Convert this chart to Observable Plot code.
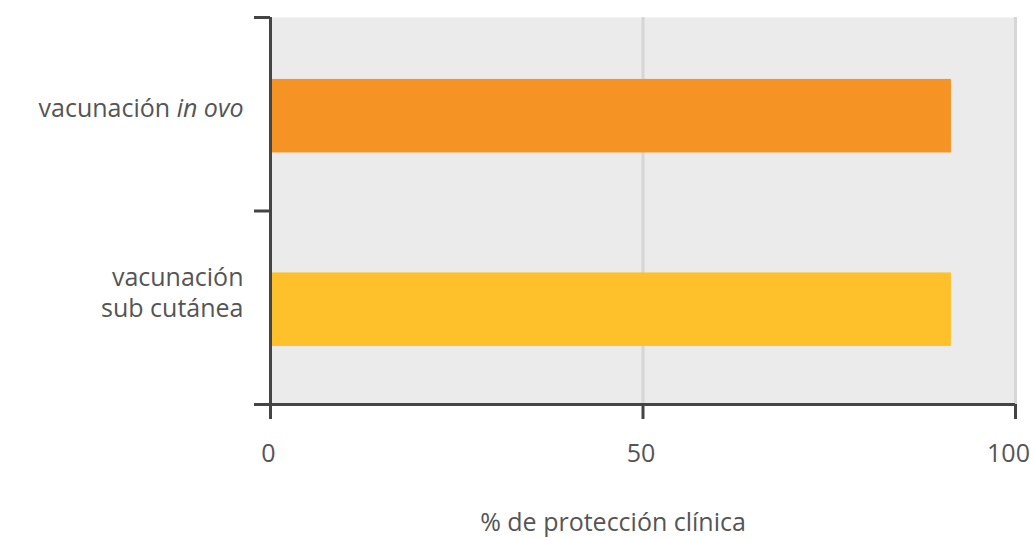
<!DOCTYPE html>
<html>
<head>
<meta charset="utf-8">
<script src="https://cdn.jsdelivr.net/npm/d3@7"></script>
<script src="https://cdn.jsdelivr.net/npm/@observablehq/plot@0.6"></script>
<style>
  html, body { margin: 0; padding: 0; background: #fff; }
  #chart svg { display: block; }
</style>
</head>
<body>
<div id="chart"></div>
<script>
// Clinical protection by vaccination route
const categories = ["vacunación in ovo", "vacunación\nsub cutánea"];
const protection = [91.4, 91.4];
const barColors = ["#f59325", "#fec02b"];
const xTicks = [0, 50, 100];
const axisTitle = "% de protección clínica";

const rows = categories.map((name, i) => ({name, i, value: protection[i], color: barColors[i]}));

const ink = "#444";
const textInk = "#555";
const fontSize = 25;
const lastTick = xTicks[xTicks.length - 1];

const chart = Plot.plot({
  width: 1034,
  height: 538,
  marginLeft: 270,
  marginRight: 19,
  marginTop: 17,
  marginBottom: 134,
  style: {fontFamily: "'Open Sans', sans-serif", fontSize: `${fontSize}px`, color: textInk, background: "#fff"},
  x: {domain: [0, 100]},
  y: {domain: [0, 2], reverse: true},
  marks: [
    Plot.frame({fill: "#ebebeb", stroke: null}),
    Plot.ruleX([50, 100], {stroke: "#d6d6d6", strokeWidth: 3}),
    Plot.rectX(rows, {x1: 0, x2: "value", y1: d => d.i + 0.32, y2: d => d.i + 0.70, fill: "color"}),
    Plot.ruleX([0], {stroke: ink, strokeWidth: 3}),
    Plot.ruleY([2], {stroke: ink, strokeWidth: 3}),
    Plot.axisY([0, 1, 2], {tickSize: 16, tickFormat: () => "", stroke: ink, strokeWidth: 3, label: null}),
    // tick marks on x, then labels (the last one pulled inward to stay on the page)
    Plot.axisX(xTicks, {tickSize: 15, tickFormat: () => "", stroke: ink, strokeWidth: 3, label: null}),
    Plot.axisX(xTicks.filter(t => t !== lastTick), {tickSize: 0, tickPadding: 40, dx: -2, fill: textInk, fontSize, label: null}),
    Plot.axisX([lastTick], {tickSize: 0, tickPadding: 40, dx: -7, fill: textInk, fontSize, label: null}),
    Plot.text(rows.filter(d => d.i === 0), {x: 0, y: d => d.i + 0.5, text: "name", textAnchor: "end", dx: -27, dy: -5, fill: textInk, fontSize, className: "label-ovo"}),
    Plot.text(rows.filter(d => d.i === 1), {x: 0, y: d => d.i + 0.5, text: "name", textAnchor: "end", dx: -27, dy: -16, lineHeight: 1.25, fill: textInk, fontSize}),
    Plot.text([axisTitle], {frameAnchor: "bottom", dy: 126, dx: -30, fill: textInk, fontSize})
  ]
});

// set "in ovo" in italics
d3.select(chart).selectAll(".label-ovo text").each(function () {
  const t = d3.select(this);
  t.text("");
  t.append("tspan").text("vacunación ");
  t.append("tspan").attr("font-style", "italic").text("in ovo");
});

document.getElementById("chart").appendChild(chart);
</script>
</body>
</html>
